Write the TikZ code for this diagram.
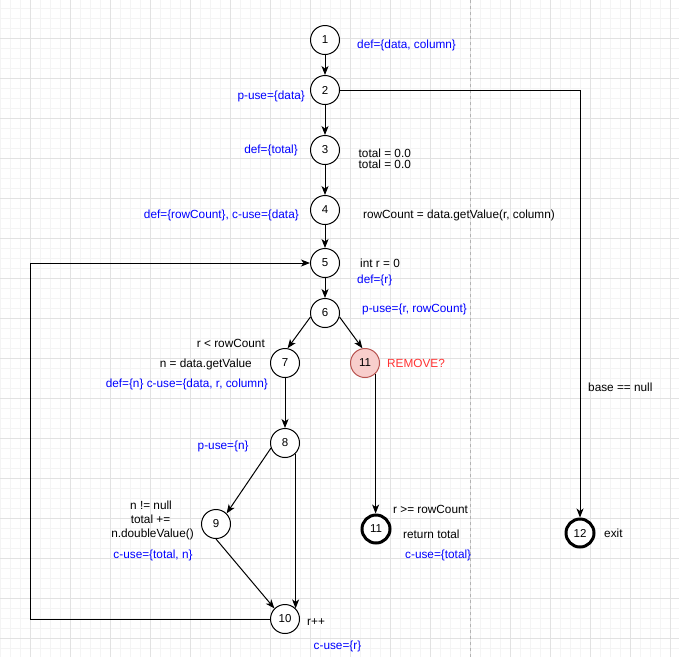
\documentclass[tikz,border=0pt]{standalone}
\usepackage{fontspec}
\setmainfont{Liberation Sans}
\usetikzlibrary{arrows.meta}
\definecolor{lblue}{HTML}{0000FF}
\definecolor{lred}{HTML}{FF3333}
\definecolor{rfill}{HTML}{F8CECC}
\definecolor{rdraw}{HTML}{B85450}
\definecolor{gminor}{HTML}{F4F4F4}
\definecolor{gmajor}{HTML}{E2E2E2}
\definecolor{gdash}{HTML}{B3B3B3}
\begin{document}
\begin{tikzpicture}[x=1pt,y=-1pt,
  vert/.style={circle,draw=black,line width=1pt,minimum size=29pt,inner sep=0pt,fill=white,font=\fontsize{11.5}{13}\selectfont},
  boldvert/.style={vert,line width=3pt,minimum size=28pt},
  remv/.style={vert,fill=rfill,draw=rdraw},
  lbl/.style={inner sep=0pt,font=\fontsize{11.8}{13}\selectfont},
  blbl/.style={lbl,text=lblue},
  edge/.style={draw=black,line width=1pt,-{Stealth[length=9pt,width=7pt,inset=2.5pt]}},
]
\useasboundingbox (0,0) rectangle (679,657);
\fill[white] (0,0) rectangle (679,657);
\foreach \x in {0,10,...,670} \draw[gminor,line width=1pt] (\x,0) -- (\x,657);
\foreach \y in {8,18,...,648} \draw[gminor,line width=1pt] (0,\y) -- (679,\y);
\foreach \x in {30,70,...,670} \draw[gmajor,line width=0.9pt] (\x,0) -- (\x,657);
\foreach \y in {38,78,...,638} \draw[gmajor,line width=0.9pt] (0,\y) -- (679,\y);
\draw[gdash,line width=0.8pt,dash pattern=on 3pt off 3pt] (470,0) -- (470,657);

% vertices
\node[vert] (n1) at (325,40) {1};
\node[vert] (n2) at (325,90) {2};
\node[vert] (n3) at (325,150) {3};
\node[vert] (n4) at (325,210) {4};
\node[vert] (n5) at (325,263) {5};
\node[vert] (n6) at (325,313) {6};
\node[vert] (n7) at (285,363) {7};
\node[remv] (r11) at (365,363) {11};
\node[vert] (n8) at (285,443) {8};
\node[vert] (n9) at (216,524) {9};
\node[vert] (n10) at (285,619) {10};
\node[boldvert] (e11) at (376,529) {11};
\node[boldvert] (e12) at (580,533) {12};

\coordinate (c2) at (580,90);
\coordinate (cl1) at (30,619);
\coordinate (cl2) at (30,263);

% edges
\draw[edge] (n1) -- (n2);
\draw[edge] (n2) -- (n3);
\draw[edge] (n3) -- (n4);
\draw[edge] (n4) -- (n5);
\draw[edge] (n5) -- (n6);
\draw[edge] (n2.east) -- (c2) -- (e12.north);
\draw[edge] (n10.west) -- (cl1) -- (cl2) -- (n5.west);
\draw[edge] (n6.195) -- (n7.80);
\draw[edge] (n6.-15) -- (r11.100);
\draw[edge] (n7) -- (n8);
\draw[edge] (n8.200) -- (n9.45);
\draw[edge] (n9.south) -- (n10.135);
\draw[edge] (n8.-45) -- (n10.45);
\draw[edge] (r11.-45) -- (r11.-45 |- e11.north);

% labels
\node[blbl,anchor=base west] (t1) at (357,48) {def=\{data, column\}};
\node[blbl,anchor=base east] (t2) at (305,99) {p-use=\{data\}};
\node[blbl,anchor=base east] (t3) at (298,153) {def=\{total\}};
\node[lbl,anchor=base west] (t3a) at (358.5,157.5) {total = 0.0};
\node[lbl,anchor=base west] (t3b) at (358.5,168.5) {total = 0.0};
\node[blbl,anchor=base east] (t4) at (299,218) {def=\{rowCount\}, c-use=\{data\}};
\node[lbl,anchor=base west] (t4a) at (363,218) {rowCount = data.getValue(r, column)};
\node[lbl,anchor=base west] (t5) at (360,267) {int r = 0};
\node[blbl,anchor=base west] (t5a) at (357,283) {def=\{r\}};
\node[blbl,anchor=base west] (t6) at (362,312) {p-use=\{r, rowCount\}};
\node[lbl,anchor=base east] (t7) at (265,347) {r < rowCount};
\node[lbl,anchor=base east] (t7a) at (252,367) {n = data.getValue};
\node[blbl,anchor=base east] (t7b) at (268,387) {def=\{n\} c-use=\{data, r, column\}};
\node[lbl,anchor=base west,text=lred] (t11) at (387,367) {REMOVE?};
\node[blbl,anchor=base west] (t8) at (197.5,449) {p-use=\{n\}};
\node[lbl,anchor=base] (t9) at (151,509) {n != null};
\node[lbl,anchor=base] (t9a) at (150.5,523) {total +=};
\node[lbl,anchor=base] (t9b) at (152.5,537) {n.doubleValue()};
\node[blbl,anchor=base] (t9c) at (153,558) {c-use=\{total, n\}};
\node[lbl,anchor=base west] (t10) at (307,625) {r++};
\node[blbl,anchor=base west] (t10a) at (313.5,649) {c-use=\{r\}};
\node[lbl,anchor=base west] (t11a) at (393,513) {r >= rowCount};
\node[lbl,anchor=base west] (t11b) at (403,538) {return total};
\node[blbl,anchor=base west] (t11c) at (405,558) {c-use=\{total\}};
\node[lbl,anchor=base west] (t12) at (588,391) {base == null};
\node[lbl,anchor=base west] (t12a) at (604,537) {exit};
\end{tikzpicture}
\end{document}
